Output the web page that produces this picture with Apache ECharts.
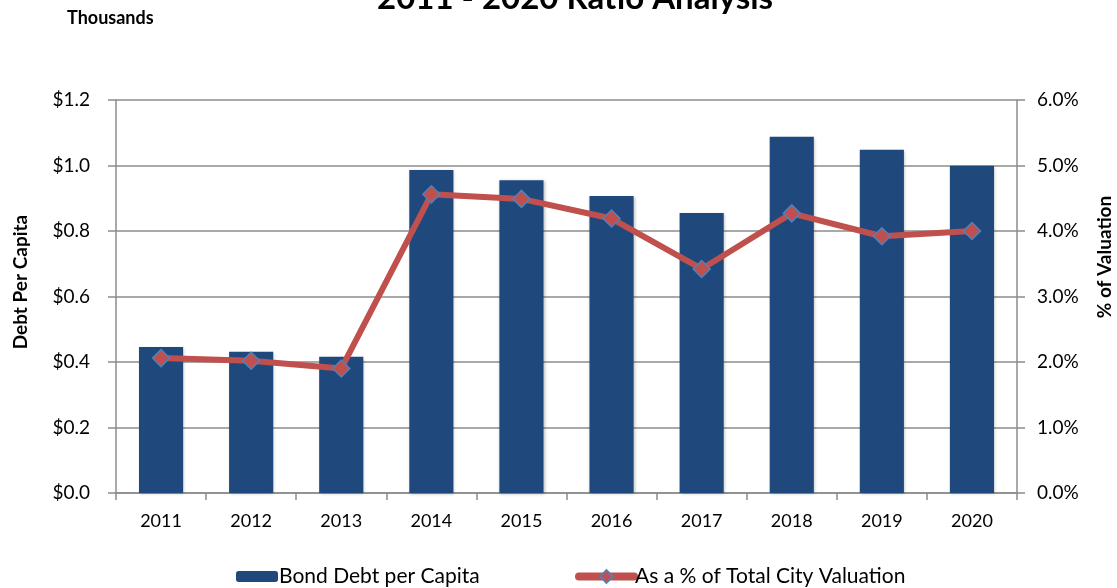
<!DOCTYPE html>
<html><head><meta charset="utf-8">
<script src="https://cdn.jsdelivr.net/npm/echarts@6/dist/echarts.min.js"></script>
<style>html,body{margin:0;padding:0;background:#fff}#c{width:1117px;height:588px}</style>
</head><body><div id="c"></div>
<script>
const years = ['2011','2012','2013','2014','2015','2016','2017','2018','2019','2020'];
const debtPerCapita = [0.446, 0.431, 0.416, 0.986, 0.955, 0.907, 0.855, 1.088, 1.048, 0.999];
const pctValuation = [2.06, 2.02, 1.90, 4.56, 4.49, 4.19, 3.42, 4.27, 3.92, 4.00];
const leftTicks = [0, 0.2, 0.4, 0.6, 0.8, 1.0, 1.2];
const rightTicks = [0, 1, 2, 3, 4, 5, 6];

const FONT = 'Lato, "Open Sans", sans-serif';
const GRID = '#8c8c8c';
const chart = echarts.init(document.getElementById('c'));
chart.setOption({
  animation: false,
  textStyle: {fontFamily: FONT},
  title: {
    text: '2011 - 2020 Ratio Analysis', left: 372, top: -23,
    textStyle: {fontFamily: FONT, fontSize: 33, fontWeight: 'bold', color: '#000'}
  },
  graphic: [{
    type: 'text', left: 67, top: 9,
    style: {text: 'Thousands', fontFamily: FONT, fontSize: 18, fontWeight: 'bold', fill: '#000'}
  }, {
    type: 'text', x: 21, y: 282, rotation: Math.PI / 2,
    style: {text: 'Debt Per Capita', fontFamily: FONT, fontSize: 19, fontWeight: 'bold', fill: '#000',
      align: 'center', verticalAlign: 'middle'}
  }, {
    type: 'text', x: 1105, y: 257, rotation: Math.PI / 2,
    style: {text: '% of Valuation', fontFamily: FONT, fontSize: 19, fontWeight: 'bold', fill: '#000',
      align: 'center', verticalAlign: 'middle'}
  }],
  legend: [{
    data: ['Bond Debt per Capita'], left: 236, top: 566, padding: 0,
    itemWidth: 42, itemHeight: 11, itemGap: 4,
    textStyle: {fontFamily: FONT, fontSize: 21, color: '#000', padding: [0,0,0,-4]}
  }, {
    data: ['As a % of Total City Valuation'], left: 575, top: 566, padding: 0,
    itemWidth: 55, itemHeight: 16, itemGap: 4,
    lineStyle: {width: 8, cap: 'round'},
    textStyle: {fontFamily: FONT, fontSize: 21, color: '#000', padding: [0,0,0,-4]}
  }],
  grid: {left: 116, right: 100, top: 100, bottom: 95},
  xAxis: {
    type: 'category', data: years,
    axisLine: {lineStyle: {color: GRID, width: 1.5}},
    axisTick: {show: true, length: 7, lineStyle: {color: GRID, width: 1.5}},
    axisLabel: {fontFamily: FONT, fontSize: 18, color: '#000', margin: 19}
  },
  yAxis: [{
    type: 'value', min: 0, max: 1.2, interval: 0.2,
    axisLine: {show: true, lineStyle: {color: GRID, width: 1.5}},
    axisTick: {show: true, length: 8, lineStyle: {color: GRID, width: 1.5}},
    axisLabel: {fontFamily: FONT, fontSize: 19, color: '#000', margin: 26,
      formatter: v => '$' + v.toFixed(1)},
    splitLine: {show: true, lineStyle: {color: GRID, width: 1.5}}
  }, {
    type: 'value', min: 0, max: 6, interval: 1, position: 'right',
    axisLine: {show: true, lineStyle: {color: GRID, width: 1.5}},
    axisTick: {show: true, length: 8, lineStyle: {color: GRID, width: 1.5}},
    axisLabel: {fontFamily: FONT, fontSize: 19, color: '#000', margin: 20,
      formatter: v => v.toFixed(1) + '%'},
    splitLine: {show: false}
  }],
  series: [{
    name: 'Bond Debt per Capita', type: 'bar', data: debtPerCapita, yAxisIndex: 0,
    barWidth: '49%',
    itemStyle: {color: '#1f497d', shadowColor: 'rgba(0,0,0,0.25)', shadowBlur: 3, shadowOffsetX: 1, shadowOffsetY: 1}
  }, {
    name: 'As a % of Total City Valuation', type: 'line', data: pctValuation, yAxisIndex: 1,
    symbol: 'diamond', symbolSize: 17,
    lineStyle: {color: '#c0504d', width: 6},
    itemStyle: {color: '#c0504d', borderColor: '#4f81bd', borderWidth: 1.5}
  }]
});
</script></body></html>
